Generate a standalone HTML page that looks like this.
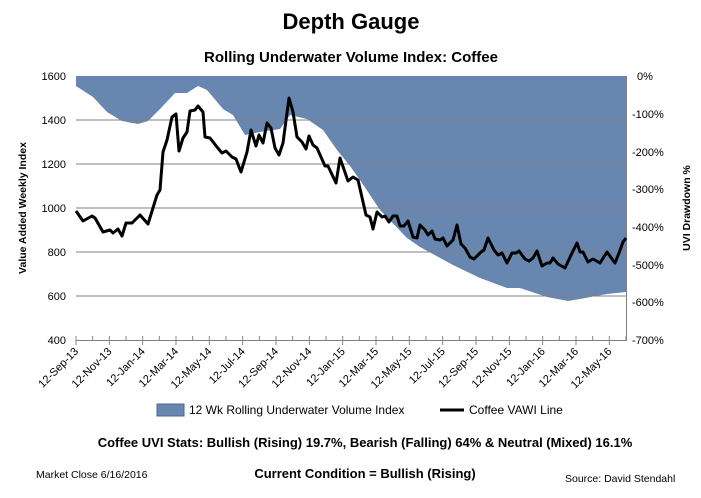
<!DOCTYPE html>
<html><head><meta charset="utf-8"><style>
body{margin:0;background:#fff;}
svg{display:block;font-family:"Liberation Sans",sans-serif;}
</style></head><body>
<svg width="701" height="498" viewBox="0 0 701 498">
<rect width="701" height="498" fill="#fff"/>
<text x="351" y="29" text-anchor="middle" font-size="22" font-weight="bold">Depth Gauge</text>
<text x="351" y="62" text-anchor="middle" font-size="15" font-weight="bold">Rolling Underwater Volume Index: Coffee</text>
<polygon fill="#6787b0" points="76,76 626,76 626,292 607,294 580,299 568,301 547,297 520,288 507,288 480,278 453,265 420,247 407,238 380,210 360,180 350,166 337,150 323,130 307,119 290,115 280,129 260,132 245,135 233,115 223,109 207,90 198,86 187,93 175,93 160,109 148,121 138,124 122,121 107,112 93,97 76,86"/>
<g stroke="#808080" stroke-width="1">
<line x1="76" y1="120" x2="626" y2="120"/><line x1="76" y1="164" x2="626" y2="164"/>
<line x1="76" y1="208" x2="626" y2="208"/><line x1="76" y1="252" x2="626" y2="252"/>
<line x1="76" y1="296" x2="626" y2="296"/>
<line x1="76" y1="340.5" x2="626" y2="340.5"/>
<line x1="626.5" y1="76" x2="626.5" y2="341"/>
</g>
<g stroke="#868686" stroke-width="1" id="ticks"></g>
<polyline fill="none" stroke="#000" stroke-width="3" stroke-linejoin="round" points="76,211 83,221 92,216 95,218 103,232 110,230 113,233 118,229 122,236 126,223 132,223 140,215 148,224 157,195 160,190 163,152 167,140 172,117 176,114 179,151 183,138 187,132 190,111 195,110 198,106 203,112 205,137 210,138 217,147 222,153 226,151 232,157 236,159 241,172 247,152 251,130 256,146 259,135 263,143 267,123 271,128 275,148 279,155 283,143 289,98 293,112 297,137 302,142 306,149 309,136 313,145 317,148 325,166 328,166 336,183 340,158 348,181 353,177 358,180 366,215 370,217 373,229 377,212 382,217 385,216 389,222 393,216 397,216 400,226 404,226 408,221 413,237 417,238 420,225 425,230 428,235 432,231 435,239 440,240 443,238 447,246 453,240 457,225 461,244 465,248 470,257 474,259 481,252 484,250 488,238 494,250 498,255 502,253 507,263 512,253 516,253 519,251 525,259 529,261 533,258 537,251 542,266 547,263 550,263 553,258 558,264 565,268 572,253 577,243 580,252 583,252 588,262 593,259 600,263 607,252 615,263 619,253 623,242 626,238"/>
<g font-size="11" text-anchor="end">
<text x="66" y="80">1600</text><text x="66" y="124">1400</text><text x="66" y="168">1200</text>
<text x="66" y="212">1000</text><text x="66" y="256">800</text><text x="66" y="300">600</text><text x="66" y="344">400</text>
</g>
<g font-size="11">
<text x="637" y="80">0%</text><text x="632" y="118">-100%</text><text x="632" y="156">-200%</text>
<text x="632" y="193">-300%</text><text x="632" y="231">-400%</text><text x="632" y="269">-500%</text>
<text x="632" y="306">-600%</text><text x="632" y="344">-700%</text>
</g>
<text transform="translate(26,208) rotate(-90)" text-anchor="middle" font-size="10.5" font-weight="bold">Value Added Weekly Index</text>
<text transform="translate(690,208) rotate(-90)" text-anchor="middle" font-size="10.5" font-weight="bold">UVI Drawdown %</text>
<g font-size="11" text-anchor="end" id="xl"></g>
<rect x="157" y="404" width="27" height="12" fill="#6787b0" stroke="#4a6a95"/>
<text x="189" y="414" font-size="12">12 Wk Rolling Underwater Volume Index</text>
<line x1="440" y1="410" x2="464" y2="410" stroke="#000" stroke-width="3"/>
<text x="469" y="414" font-size="12">Coffee VAWI Line</text>
<text x="365" y="447" text-anchor="middle" font-size="13" font-weight="bold">Coffee UVI Stats:  Bullish (Rising) 19.7%, Bearish (Falling) 64% &amp; Neutral (Mixed) 16.1%</text>
<text x="36" y="478" font-size="10.5">Market Close 6/16/2016</text>
<text x="365" y="478" text-anchor="middle" font-size="13" font-weight="bold">Current Condition = Bullish (Rising)</text>
<text x="565" y="482" font-size="10.5">Source: David Stendahl</text>
</svg>
<script>
var t=document.getElementById('ticks'),xl=document.getElementById('xl'),ns='http://www.w3.org/2000/svg';
var m=['Sep-13','Nov-13','Jan-14','Mar-14','May-14','Jul-14','Sep-14','Nov-14','Jan-15','Mar-15','May-15','Jul-15','Sep-15','Nov-15','Jan-16','Mar-16','May-16'];
for(var i=0;i<=33;i++){var x=76+i*550/33;var l=document.createElementNS(ns,'line');l.setAttribute('x1',x);l.setAttribute('x2',x);l.setAttribute('y1',336);l.setAttribute('y2',i%2?341:345);t.appendChild(l);}
m.forEach(function(s,i){var x=76+i*2*550/33;var e=document.createElementNS(ns,'text');e.setAttribute('transform','translate('+(x+3)+',352) rotate(-45)');e.textContent='12-'+s;xl.appendChild(e);});
</script>
</body></html>
